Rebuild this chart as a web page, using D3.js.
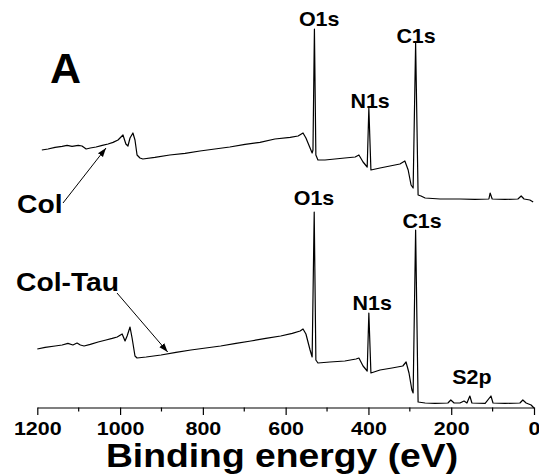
<!DOCTYPE html>
<html lang="en">
<head>
	<meta charset="utf-8">
	<title>XPS survey A</title>
	<script type="text/javascript" src="https://cdn.jsdelivr.net/npm/d3@7"></script>
<style>
	body {
		margin: 0;
		background: white;
	}
	svg text {
		font-family: "Liberation Sans", Arial, sans-serif;
		font-weight: bold;
		fill: black;
	}
</style>
</head>
<body>
<div id="chart"></div>
<script type="text/javascript" charset="utf-8">

// binding energy (eV) and intensity (a.u.)
var colEnergy = [1189,1174,1157,1140,1128,1116,1101,1092,1082,1072,1058,1043,1029,1017,1005,993,986,981,976,969,964,959,952,945,
	916,880,843,807,771,735,698,662,626,589,570,558,551,541,536,534,530.5,527,522,505,481,457,432,423,413,403,399,394,
	372,348,324,312,304,297,292,286,280,273,263,227,179,143,109,106,101,70,39,31,24,10,2]
var colIntensity = [29,29.5,30.3,30.8,31.3,30.8,31.3,31,29.5,30,30.5,31.3,32,32.8,34,36.5,32,31,35,37.5,34,26.5,25,24.5,
	25.3,26.5,27.3,28.5,29.5,30.5,31.8,32.8,34.5,35.3,36,37.5,35,30,27.5,29,89.5,26.5,24,24,24.5,25,25.5,26.5,23,20.5,50,19,
	20,21,22,23.5,19,11.5,10,82.5,6.5,6,5,4.5,4.5,4.3,4.5,7.5,4.5,4.3,4.5,6,4.5,4,3]

var tauEnergy = [1200,1181,1157,1140,1126,1114,1104,1096,1087,1072,1053,1034,1019,1007,995,988,983,976,971,964,959,937,
	901,865,829,793,757,720,684,648,612,584,565,558,551,541,536,531,527,522,493,457,430,423,413,403,399,394,
	372,343,317,309,302,295,292,286,280,263,239,208,201,193,179,169,162,155,150,118,104,99,70,34,27,19,7,0]
var tauIntensity = [29.5,30.3,31,31.5,32.3,31.5,32.5,31.5,31,31.8,33,34,34.8,35.5,37,33.5,36,40.5,35,26,25,25.5,
	26.5,27.8,29,30,31,32.3,33.5,34.8,36,37.3,38.5,39.5,37,29,25.5,98,24,22.5,23,23.5,24.5,25,21,18.5,47.5,17.5,
	19,20,21,23,17.5,9,7.5,89,3,2.5,2.3,2.5,4,2.5,2.5,3.5,2.5,6,2.5,2.3,6,2.5,2.3,2.5,4,2.5,1.5,0]

var colOffset = 100   // Col spectrum is shifted up above Col-Tau

var xTicks = [1200, 1000, 800, 600, 400, 200, 0]
var xMinorTicks = [1100, 900, 700, 500, 300, 100]

// peak labels: text, energy, intensity at baseline (plot units)
var peakNames = ["O1s", "C1s", "N1s", "O1s", "C1s", "N1s", "S2p"]
var peakEnergy = [519, 285, 396, 531.5, 270.5, 391, 150]
var peakLevel = [191, 182.5, 150, 101.5, 90, 49, 12]

var W = 539, H = 474
var stretch = 1.13   // text in the picture is a bit wide

var svg = d3.select("#chart").append("svg")
	.attr("width", W).attr("height", H)

var x = d3.scaleLinear().domain([1200, 0]).range([37.3, 534])
var y = d3.scaleLinear().domain([0, 200]).range([408, 8])

var line = d3.line()
	.x(function(d) { return x(d[0]) })
	.y(function(d) { return y(d[1]) })

var colData = colEnergy.map(function(e, i) { return [e, colIntensity[i] + colOffset] })
var tauData = tauEnergy.map(function(e, i) { return [e, tauIntensity[i]] })

svg.append("path").datum(colData)
	.attr("d", line)
	.attr("fill", "none").attr("stroke", "black").attr("stroke-width", 1.2)
	.attr("stroke-linejoin", "round")
svg.append("path").datum(tauData)
	.attr("d", line)
	.attr("fill", "none").attr("stroke", "black").attr("stroke-width", 1.2)
	.attr("stroke-linejoin", "round")

// bottom axis, ticks pointing out
var axisG = svg.append("g").attr("transform", "translate(0,407.5)")
axisG.call(d3.axisBottom(x).tickValues(xTicks).tickFormat(d3.format("d"))
	.tickSize(7.5).tickSizeOuter(0).tickPadding(6))
axisG.select(".domain").attr("stroke", "black").attr("stroke-width", 1.2)
axisG.selectAll(".tick line").attr("stroke", "black").attr("stroke-width", 1.2)
axisG.selectAll(".tick text")
	.attr("font-size", 19).attr("dy", "0.72em")
	.attr("transform", "scale(" + stretch + ",1)")
axisG.selectAll(".minor").data(xMinorTicks).enter().append("line")
	.attr("class", "minor")
	.attr("x1", function(d) { return x(d) }).attr("x2", function(d) { return x(d) })
	.attr("y1", 0).attr("y2", 4)
	.attr("stroke", "black").attr("stroke-width", 1.2)

svg.append("text")
	.attr("transform", "translate(282,467) scale(" + stretch + ",1)")
	.attr("text-anchor", "middle").attr("font-size", 33)
	.text("Binding energy (eV)")

svg.append("text")
	.attr("x", 50).attr("y", 83)
	.attr("font-size", 43)
	.text("A")

// peak labels
peakNames.forEach(function(t, i) {
	svg.append("text")
		.attr("transform", "translate(" + x(peakEnergy[i]) + "," + y(peakLevel[i]) + ") scale(1.1,1)")
		.attr("text-anchor", "middle").attr("font-size", 19.5)
		.text(t)
})

// sample labels with arrows
svg.append("defs").append("marker")
	.attr("id", "head")
	.attr("viewBox", "0 0 10 10")
	.attr("refX", 10).attr("refY", 5)
	.attr("markerWidth", 9).attr("markerHeight", 9)
	.attr("markerUnits", "userSpaceOnUse")
	.attr("orient", "auto")
	.append("path").attr("d", "M0,1.5 L10,5 L0,8.5 Z").attr("fill", "black")

var sampleNames = ["Col", "Col-Tau"]
var labelPos = [[17, 213], [16, 291]]
var arrowTail = [[63, 203], [117, 293]]
var arrowHeadEnergy = [1034, 885]
var arrowHeadLevel = [130, 28]

sampleNames.forEach(function(t, i) {
	svg.append("text")
		.attr("transform", "translate(" + labelPos[i][0] + "," + labelPos[i][1] + ") scale(" + stretch + ",1)")
		.attr("font-size", 25)
		.text(t)
	svg.append("line")
		.attr("x1", arrowTail[i][0]).attr("y1", arrowTail[i][1])
		.attr("x2", x(arrowHeadEnergy[i])).attr("y2", y(arrowHeadLevel[i]))
		.attr("stroke", "black").attr("stroke-width", 1)
		.attr("marker-end", "url(#head)")
})

</script>
</body>
</html>
